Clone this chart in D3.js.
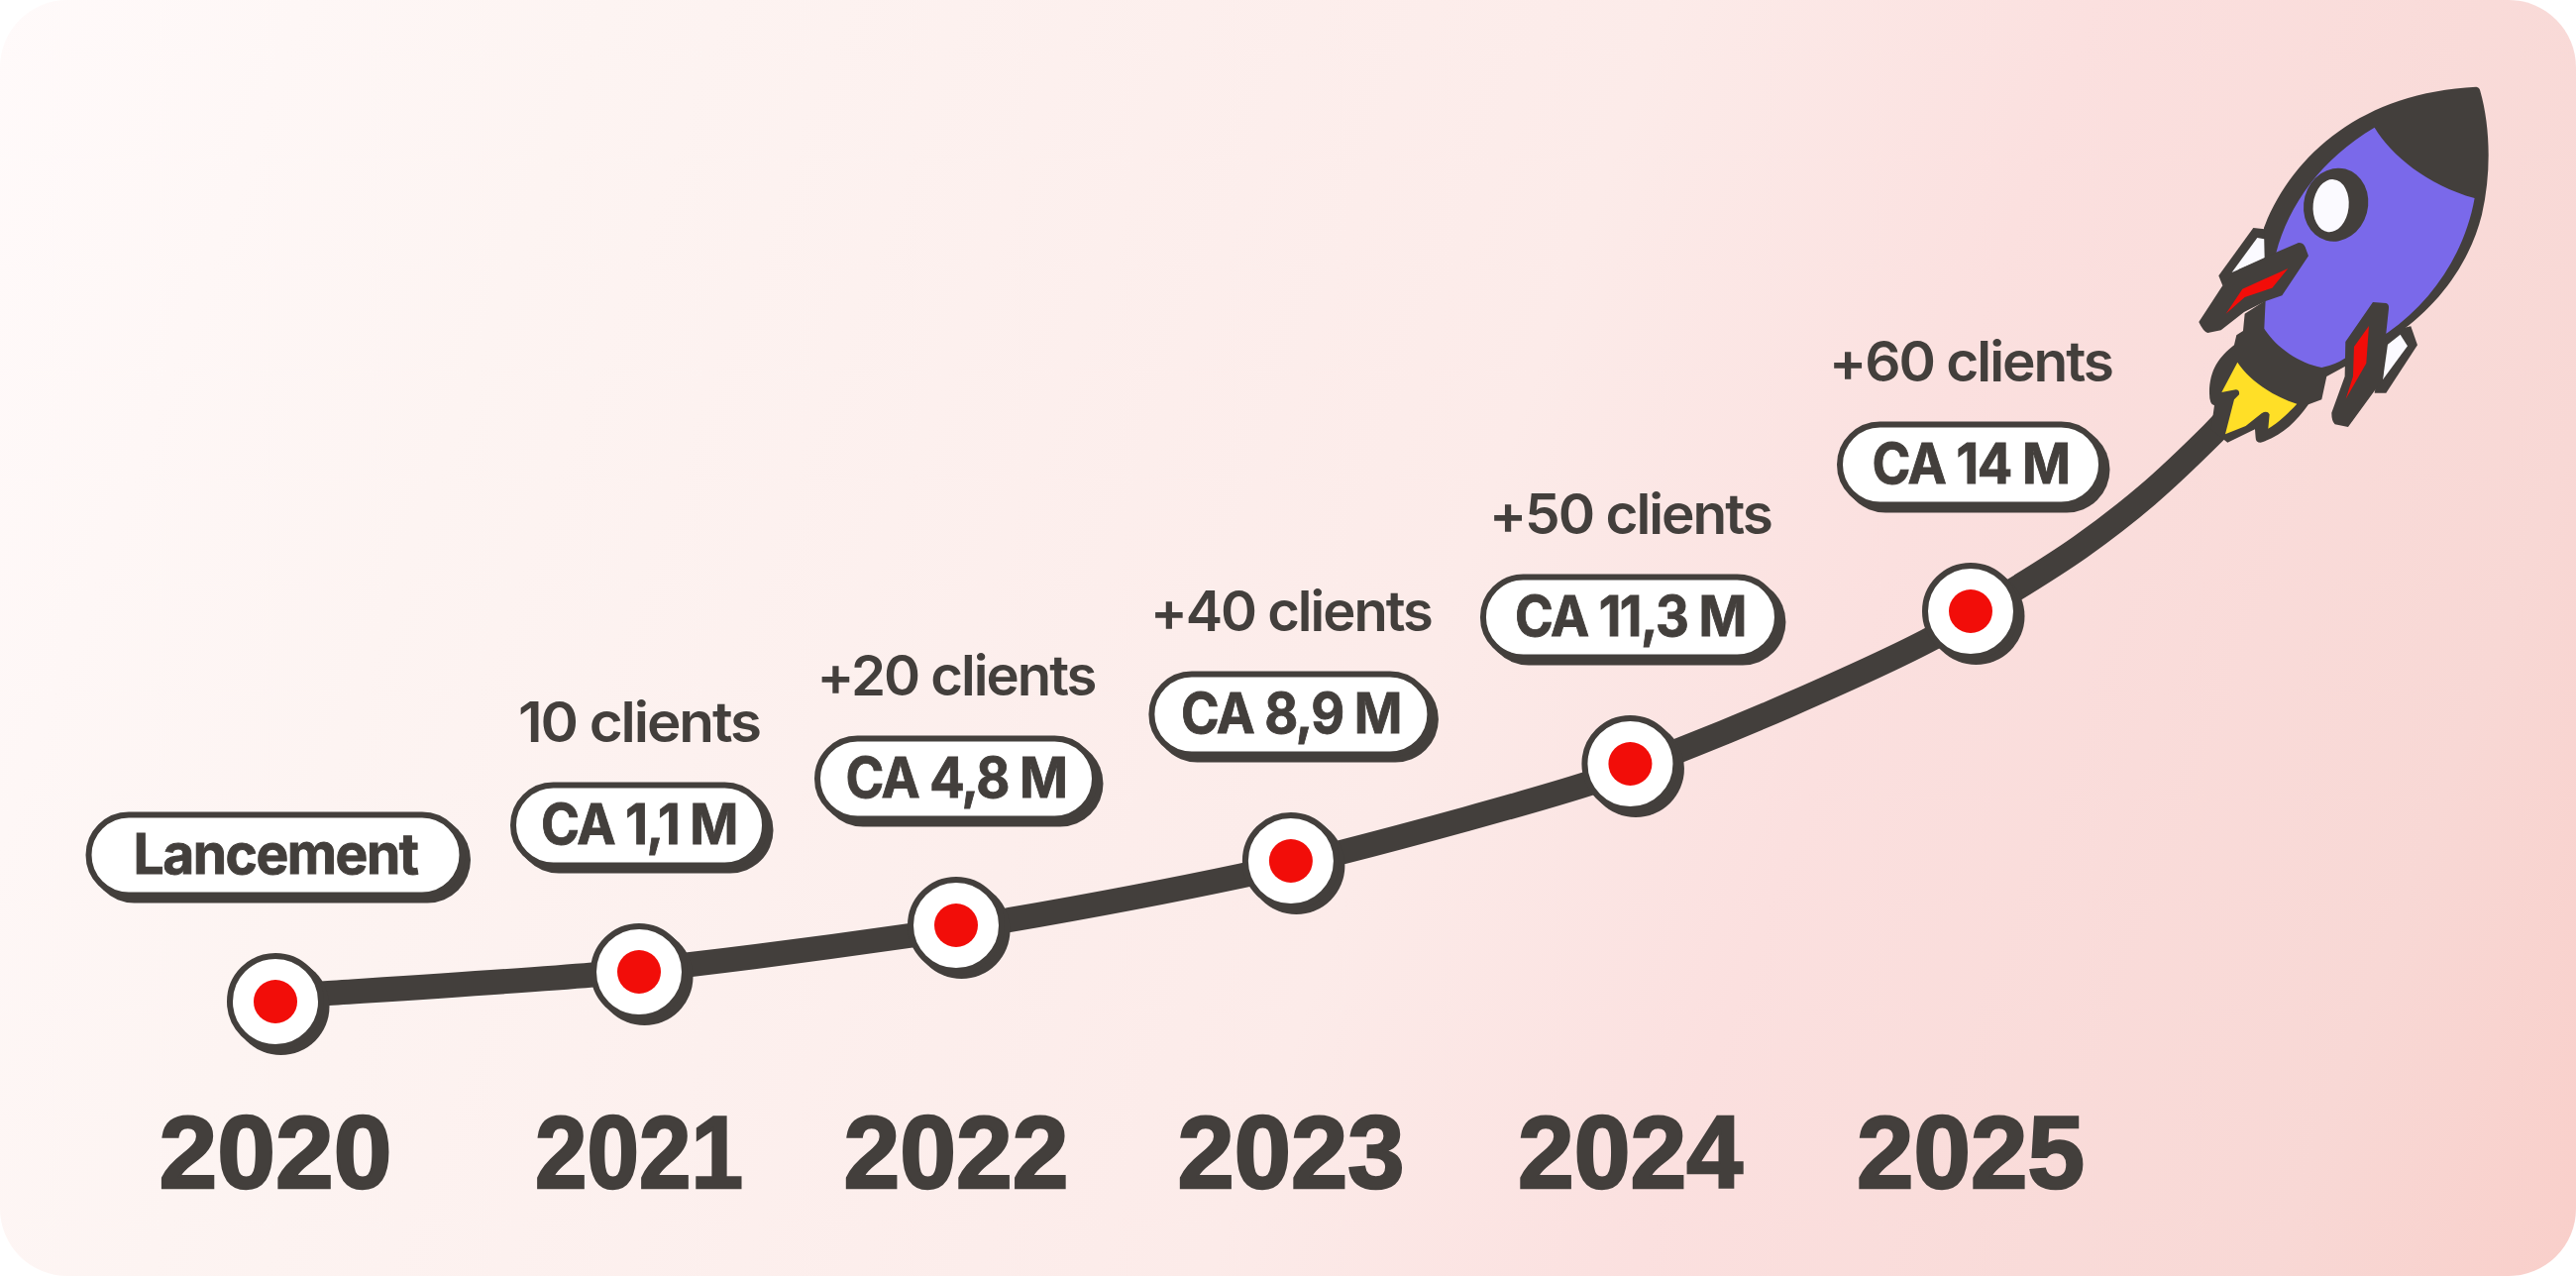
<!DOCTYPE html>
<html><head><meta charset="utf-8">
<script src="https://d3js.org/d3.v7.min.js"></script>
<style>html,body{margin:0;padding:0;background:#fff}svg{display:block}text{font-family:"Liberation Sans",Arial,sans-serif}</style>
</head><body><svg id="c" width="2600" height="1288" viewBox="0 0 2600 1288"></svg>
<script>
// ---- data ----
const years = ["2020","2021","2022","2023","2024","2025"];
const clients = ["","10 clients","+20 clients","+40 clients","+50 clients","+60 clients"];
const revenue = ["Lancement","CA 1,1 M","CA 4,8 M","CA 8,9 M","CA 11,3 M","CA 14 M"];
const timeline = [2020,2021.0725,2022.0076,2022.995,2023.996,2025];
const growth = [0,5,12.83,23.67,40,65.67];
const curveTimeline = [2020,2020.137,2020.935,2021.213,2021.859,2022.158,2022.849,2023.136,2023.881,2024.129,2024.468,2024.871,2025.12,2025.324,2025.52,2025.713,2025.763];
const curveGrowth = [0.83,1.33,4.5,6.17,11,13.67,21.17,25,36.83,42,50,60.67,69,76.5,85.17,95.5,98.5];

// ---- layout (not data) ----
const W=2600,H=1288,ink="#433f3c",red="#f20d09";
const pillWidth=[371,248,274,275,291,258];
const revenueTextWidth=[287,198,223,222,233,199];
const clientTextWidth=[0,244,281,284,285,286];
const yearTextWidth=[235,210,227,229,227,230];

const x=d3.scaleLinear().domain([2020,2025]).range([278,1989]);
const y=d3.scaleLinear().domain([0,100]).range([1011,411]);
const svg=d3.select("#c");

const grad=svg.append("defs").append("linearGradient").attr("id","bg")
 .attr("gradientUnits","userSpaceOnUse").attr("x1",0).attr("y1",0).attr("x2",2709).attr("y2",980);
[[0,"#fffafa"],[.2,"#fdf4f2"],[.55,"#fcebe9"],[.69,"#fbe0df"],[.9,"#f8d8d5"],[1,"#f9cfca"]]
 .forEach(s=>grad.append("stop").attr("offset",s[0]).attr("stop-color",s[1]));
svg.append("rect").attr("width",W).attr("height",H).attr("rx",68).attr("fill","url(#bg)");

const pts=timeline.map((t,i)=>({t,g:growth[i],year:years[i],client:clients[i],rev:revenue[i],i}));
const linePts=curveTimeline.map((t,i)=>[t,curveGrowth[i]]);
svg.append("path").attr("d",d3.line().x(d=>x(d[0])).y(d=>y(d[1])).curve(d3.curveCatmullRom.alpha(.5))(linePts))
 .attr("fill","none").attr("stroke",ink).attr("stroke-width",25);

// rocket (illustration, in a 3x local space)
const rocket=svg.append("g").attr("transform","translate(2100,50) scale(0.3333)");
const shapes=[
 [ink,"M925,855 L1000,838 L1020,895 L925,1040 L890,1040 Z"],
 ["#fbfaff","M930,893 L968,863 L990,898 L915,1000 Z"],
 [ink,"M523,540 L570,545 L600,620 L430,715 L418,685 Z"],
 ["#fbfaff","M535,570 L575,577 L557,633 L458,675 Z"],
 [ink,"M1198,113 Q1208,114 1210,125 C1240,230 1245,370 1215,500 C1180,640 1090,770 960,860 L800,960 L745,990 L730,1060 L690,1075 C650,1130 610,1170 545,1190 Q530,1190 530,1175 L528,1150 L445,1190 L395,1150 L405,1078 Q390,1075 390,1040 C390,970 420,930 465,895 L472,865 L492,852 L497,800 L560,760 L555,540 C640,320 850,130 1198,113 Z"],
 ["#7a69ea","M890,236 C940,320 1050,410 1193,450 C1165,610 1070,760 930,857 L800,935 Q770,955 730,963 C660,950 590,900 556,845 L560,760 L592,616 C630,470 730,330 890,236 Z"],
 [ink,"M660,585 Q675,585 680,598 L690,625 L610,745 L560,762 L495,795 L425,850 L385,858 Q372,855 358,825 L430,715 L480,665 L590,615 Z"],
 [red,"M628,663 L580,722 L497,750 L440,800 L490,725 Z"],
 [ink,"M885,765 L925,768 Q935,772 933,785 L925,860 L915,1000 L885,1040 L810,1143 L770,1135 Q760,1125 760,1100 L800,990 L802,885 Z"],
 [red,"M873,837 L865,950 L803,1058 L825,990 L828,900 Z"],
 ["#ffdf27","M475,947 C510,1000 580,1050 655,1073 C630,1100 600,1130 568,1148 L572,1105 Q565,1092 548,1102 L500,1140 L438,1165 L465,1060 L480,1045 Q482,1030 470,1030 L427,1038 Z"]
];
shapes.forEach(s=>rocket.append("path").attr("d",s[1]).attr("fill",s[0]));
rocket.append("ellipse").attr("cx",773).attr("cy",470).attr("rx",97).attr("ry",112).attr("transform","rotate(15 773 470)").attr("fill",ink);
rocket.append("ellipse").attr("cx",758).attr("cy",473).attr("rx",54).attr("ry",80).attr("transform","rotate(6 758 473)").attr("fill","#fbfaff");

// markers
const m=svg.append("g").selectAll("g").data(pts).join("g").attr("transform",d=>`translate(${x(d.t)},${y(d.g)})`);
m.append("circle").attr("cx",5.5).attr("cy",5).attr("r",49).attr("fill",ink);
m.append("circle").attr("r",46).attr("fill","#fff").attr("stroke",ink).attr("stroke-width",6);
m.append("circle").attr("r",22).attr("fill",red);

// pills
const PH=75,PCY=-148;
m.append("rect").attr("x",d=>-pillWidth[d.i]/2-6+5.5).attr("y",PCY-PH/2-6+5).attr("width",d=>pillWidth[d.i]+12).attr("height",PH+12).attr("rx",43.5).attr("fill",ink);
m.append("rect").attr("x",d=>-pillWidth[d.i]/2-3).attr("y",PCY-PH/2-3).attr("width",d=>pillWidth[d.i]+6).attr("height",PH+6).attr("rx",40.5).attr("fill","#fff").attr("stroke",ink).attr("stroke-width",6);
m.append("text").attr("y",-129).attr("text-anchor","middle").attr("font-size",56).attr("font-weight",700).attr("fill",ink)
 .attr("stroke",ink).attr("stroke-width",0.9).style("font-family","Inter").style("letter-spacing","-1.5px")
 .attr("textLength",d=>revenueTextWidth[d.i]).attr("lengthAdjust","spacingAndGlyphs").text(d=>d.rev);
m.filter(d=>d.client).append("text").attr("y",-232).attr("text-anchor","middle").attr("font-size",56).attr("font-weight",600).attr("fill",ink)
 .style("font-family","Inter").style("letter-spacing","-2px")
 .attr("textLength",d=>clientTextWidth[d.i]).attr("lengthAdjust","spacingAndGlyphs").text(d=>d.client);

// years
svg.append("g").selectAll("text").data(pts).join("text").attr("x",d=>x(d.t)).attr("y",1199)
 .attr("text-anchor","middle").attr("font-size",104).attr("font-weight",700).attr("fill",ink)
 .attr("stroke",ink).attr("stroke-width",2.5)
 .attr("textLength",d=>yearTextWidth[d.i]).attr("lengthAdjust","spacingAndGlyphs").text(d=>d.year);
</script></body></html>
